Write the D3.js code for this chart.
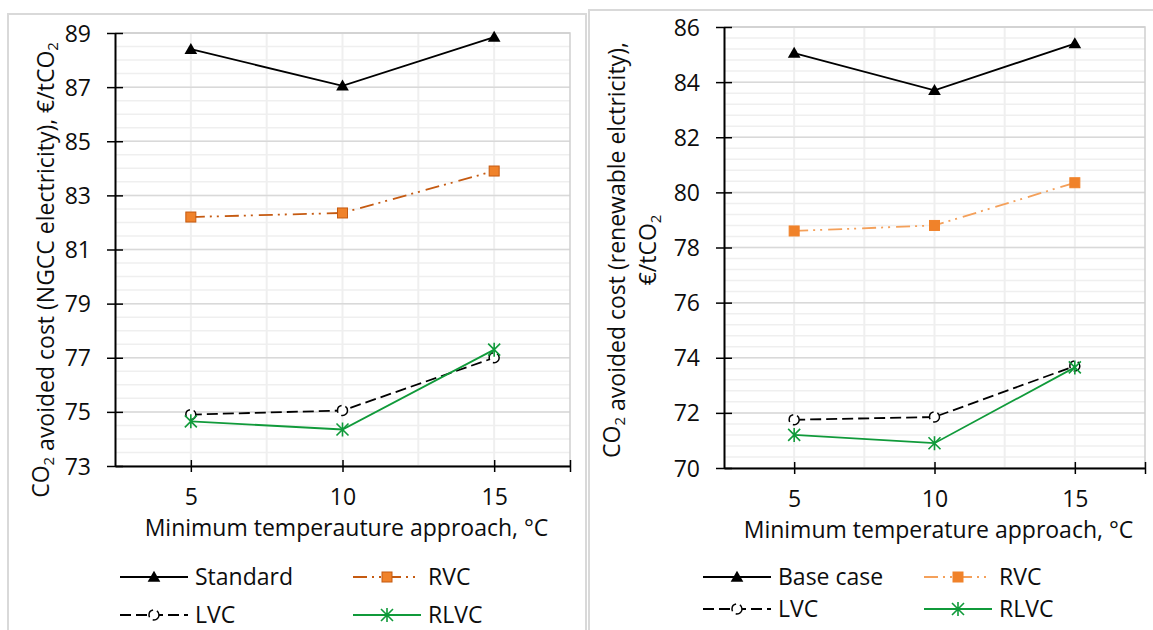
<!DOCTYPE html>
<html>
<head>
<meta charset="utf-8">
<script src="https://cdn.jsdelivr.net/npm/d3@7"></script>
<style>
  body { margin: 0; background: #fff; }
  svg { display: block; font-family: "Open Sans", Lato, sans-serif; }
</style>
</head>
<body>
<svg id="chart" width="1153" height="630"></svg>
<script>
// data
const approachTemps = [5, 10, 15];

const ngccStandard = [88.4, 87.05, 88.85];
const ngccRVC = [82.2, 82.35, 83.9];
const ngccLVC = [74.9, 75.05, 77.0];
const ngccRLVC = [74.65, 74.35, 77.3];

const renewBase = [85.05, 83.7, 85.4];
const renewRVC = [78.6, 78.8, 80.35];
const renewLVC = [71.75, 71.85, 73.7];
const renewRLVC = [71.2, 70.9, 73.65];

const ngccTicks = [73, 75, 77, 79, 81, 83, 85, 87, 89];
const renewTicks = [70, 72, 74, 76, 78, 80, 82, 84, 86];
const xTickLabels = [5, 10, 15];

const fontSize = 23;
const textColor = '#0d0d0d';
let svg = d3.select('#chart');

function drawMarker(g, type, cx, cy, st) {
    if (type === 'triangle') {
        g.append('path')
            .attr('d', d3.symbol(d3.symbolTriangle).size(70)())
            .attr('transform', 'translate(' + cx + ',' + (cy + 1) + ')')
            .attr('fill', '#000');
    } else if (type === 'square') {
        g.append('rect')
            .attr('x', cx - 5).attr('y', cy - 5)
            .attr('width', 10).attr('height', 10)
            .attr('fill', '#f0822a')
            .attr('stroke', st.markerStroke)
            .attr('stroke-width', 1);
    } else if (type === 'circle') {
        g.append('circle')
            .attr('cx', cx).attr('cy', cy).attr('r', 5)
            .attr('fill', '#fff')
            .attr('stroke', '#000')
            .attr('stroke-width', 1.5)
            .attr('stroke-dasharray', '9,4');
    } else if (type === 'star') {
        g.append('path')
            .attr('d', 'M0,-7V7M-6,-6L6,6M-6,6L6,-6')
            .attr('transform', 'translate(' + cx + ',' + cy + ')')
            .attr('fill', 'none')
            .attr('stroke', st.color)
            .attr('stroke-width', 1.6);
    }
}

function addSubText(sel, parts) {
    // parts: [text, isSub]
    parts.forEach(function (p) {
        if (p[1]) {
            sel.append('tspan').attr('font-size', '0.65em').attr('dy', '0.3em').text(p[0]);
            sel.append('tspan').attr('dy', '-0.2em').text('');
        } else {
            sel.append('tspan').text(p[0]);
        }
    });
}

function drawChart(opt) {
    let g = svg.append('g');

    // outer chart frame
    g.append('rect')
        .attr('x', opt.frame[0]).attr('y', opt.frame[1])
        .attr('width', opt.frame[2]).attr('height', opt.frame[3])
        .attr('fill', 'none')
        .attr('stroke', '#d9d9d9')
        .attr('stroke-width', 2);

    let xScale = d3.scaleLinear().domain([2.5, 17.5]).range([opt.left, opt.right]);
    let yScale = d3.scaleLinear().domain([opt.ticks[0], opt.ticks[opt.ticks.length - 1]])
        .range([opt.bottom, opt.top]);

    // minor horizontal gridlines
    let minor = d3.range(opt.ticks[0], opt.ticks[opt.ticks.length - 1] + 0.001, opt.minorStep);
    g.append('g').selectAll('line')
        .data(minor)
        .enter().append('line')
        .attr('x1', opt.left).attr('x2', opt.right)
        .attr('y1', d => yScale(d)).attr('y2', d => yScale(d))
        .attr('stroke', '#efefef').attr('stroke-width', 1.5);

    // vertical gridlines
    g.append('g').selectAll('line')
        .data([5, 7.5, 10, 12.5, 15])
        .enter().append('line')
        .attr('x1', d => xScale(d)).attr('x2', d => xScale(d))
        .attr('y1', opt.top).attr('y2', opt.bottom)
        .attr('stroke', '#efefef').attr('stroke-width', 2);

    // major horizontal gridlines
    g.append('g').selectAll('line')
        .data(opt.ticks)
        .enter().append('line')
        .attr('x1', opt.left).attr('x2', opt.right)
        .attr('y1', d => yScale(d)).attr('y2', d => yScale(d))
        .attr('stroke', '#d9d9d9').attr('stroke-width', 1.5);

    // plot area border (top/right)
    g.append('path')
        .attr('d', 'M' + opt.left + ',' + opt.top + 'H' + opt.right + 'V' + opt.bottom)
        .attr('fill', 'none').attr('stroke', '#d0d0d0').attr('stroke-width', 1.5);

    // axes
    let xAxis = d3.axisBottom(xScale)
        .tickValues(xTickLabels.concat([17.5]))
        .tickFormat(d => d === 17.5 ? '' : d)
        .tickSizeInner(6).tickSizeOuter(0);
    let xg = g.append('g')
        .attr('transform', 'translate(0,' + opt.bottom + ')')
        .call(xAxis);
    xg.select('.domain').attr('stroke', '#000').attr('stroke-width', 2);
    xg.selectAll('.tick line').attr('y1', -6).attr('stroke', '#000').attr('stroke-width', 1.5);
    xg.selectAll('.tick text')
        .attr('y', 31).attr('dy', '0.35em')
        .attr('font-size', fontSize).attr('font-family', '"Open Sans", sans-serif').attr('fill', textColor);

    let yAxis = d3.axisLeft(yScale).tickValues(opt.ticks).tickSizeInner(8).tickSizeOuter(0);
    let yg = g.append('g')
        .attr('transform', 'translate(' + opt.left + ',0)')
        .call(yAxis);
    yg.select('.domain').attr('stroke', '#000').attr('stroke-width', 2);
    yg.selectAll('.tick line').attr('x2', 8).attr('x1', -8).attr('stroke', '#000').attr('stroke-width', 1.5);
    yg.selectAll('.tick text')
        .attr('x', -24).attr('dy', '0.35em')
        .attr('font-size', fontSize).attr('font-family', '"Open Sans", sans-serif').attr('fill', textColor);

    // series lines and markers
    let line = d3.line()
        .x((d, i) => xScale(approachTemps[i]))
        .y(d => yScale(d));

    opt.series.forEach(function (s) {
        g.append('path')
            .datum(s.values)
            .attr('d', line)
            .attr('fill', 'none')
            .attr('stroke', s.color)
            .attr('stroke-width', 1.8)
            .attr('stroke-dasharray', s.dash);
        let mg = g.append('g');
        s.values.forEach(function (v, i) {
            drawMarker(mg, s.marker, xScale(approachTemps[i]), yScale(v), s);
        });
    });

    // x axis title
    g.append('text')
        .attr('x', (opt.left + opt.right) / 2 + 4)
        .attr('y', opt.bottom + 62)
        .attr('text-anchor', 'middle')
        .attr('dy', '0.35em')
        .attr('font-size', fontSize).attr('fill', textColor)
        .text(opt.xTitle);

    // y axis title
    opt.yTitle.forEach(function (ln) {
        let t = g.append('text')
            .attr('transform', 'translate(' + ln.x + ',' + ln.y + ') rotate(-90)')
            .attr('text-anchor', 'middle')
            .attr('dy', '0.35em')
            .attr('font-size', fontSize).attr('fill', textColor);
        addSubText(t, ln.parts);
    });

    // legend
    opt.series.forEach(function (s, i) {
        let lx = opt.legendX[i % 2];
        let ly = opt.legendY[Math.floor(i / 2)];
        let lg = g.append('g');
        lg.append('line')
            .attr('x1', lx).attr('x2', lx + 68)
            .attr('y1', ly).attr('y2', ly)
            .attr('stroke', s.color).attr('stroke-width', 1.8)
            .attr('stroke-dasharray', s.dash);
        drawMarker(lg, s.marker, lx + 34, ly, s);
        lg.append('text')
            .attr('x', lx + 75).attr('y', ly)
            .attr('dy', '0.35em')
            .attr('font-size', fontSize).attr('fill', textColor)
            .text(s.name);
    });
}

const rvcDash = '14,5,2,5,2,6';
const lvcDash = '11,5';

drawChart({
    frame: [8, 14, 578, 640],
    left: 115, right: 570, top: 33, bottom: 466,
    ticks: ngccTicks, minorStep: 0.5,
    xTitle: 'Minimum temperauture approach, \u00B0C',
    yTitle: [{x: 41, y: 270, parts: [['CO', false], ['2', true], [' avoided cost (NGCC electricity), \u20AC/tCO', false], ['2', true]]}],
    legendX: [120, 353],
    legendY: [577, 615],
    series: [
        {name: 'Standard', values: ngccStandard, color: '#000', dash: null, marker: 'triangle'},
        {name: 'RVC', values: ngccRVC, color: '#c55a11', dash: rvcDash, marker: 'square', markerStroke: '#c55a11'},
        {name: 'LVC', values: ngccLVC, color: '#000', dash: lvcDash, marker: 'circle'},
        {name: 'RLVC', values: ngccRLVC, color: '#109a3a', dash: null, marker: 'star'}
    ]
});

drawChart({
    frame: [589, 10, 600, 640],
    left: 724, right: 1145, top: 27, bottom: 468,
    ticks: renewTicks, minorStep: 0.4,
    xTitle: 'Minimum temperature approach, \u00B0C',
    yTitle: [
        {x: 612, y: 250, parts: [['CO', false], ['2', true], [' avoided cost (renewable elctricity),', false]]},
        {x: 648, y: 250, parts: [['\u20AC/tCO', false], ['2', true]]}
    ],
    legendX: [703, 924],
    legendY: [577, 609],
    series: [
        {name: 'Base case', values: renewBase, color: '#000', dash: null, marker: 'triangle'},
        {name: 'RVC', values: renewRVC, color: '#f4a05a', dash: rvcDash, marker: 'square', markerStroke: '#f0822a'},
        {name: 'LVC', values: renewLVC, color: '#000', dash: lvcDash, marker: 'circle'},
        {name: 'RLVC', values: renewRLVC, color: '#109a3a', dash: null, marker: 'star'}
    ]
});
</script>
</body>
</html>
